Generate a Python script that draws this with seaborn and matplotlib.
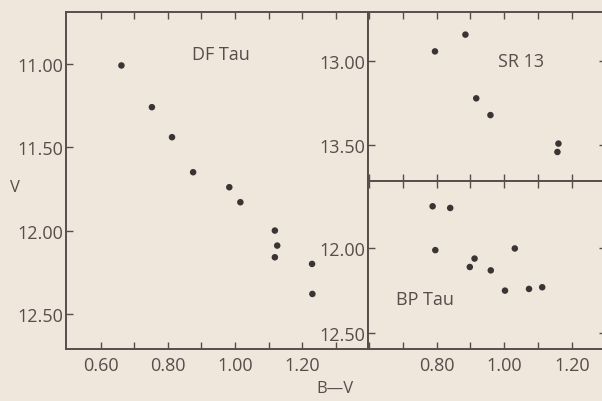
import numpy as np
import pandas as pd
import matplotlib
matplotlib.use('Agg')
import matplotlib.pyplot as plt
import seaborn as sns

# =========================
# DATA
# =========================
df_tau_bv = [0.661, 0.752, 0.812, 0.875, 0.983, 1.016, 1.119, 1.126, 1.119, 1.230, 1.231]
df_tau_v = [11.01, 11.26, 11.44, 11.65, 11.74, 11.83, 12.00, 12.09, 12.16, 12.20, 12.38]

sr13_bv = [0.795, 0.885, 0.917, 0.959, 1.160, 1.157]
sr13_v = [12.94, 12.84, 13.22, 13.32, 13.49, 13.54]

bp_tau_bv = [0.788, 0.840, 0.796, 0.912, 0.898, 0.960, 1.031, 1.002, 1.073, 1.112]
bp_tau_v = [11.75, 11.76, 12.01, 12.06, 12.11, 12.13, 12.00, 12.25, 12.24, 12.23]

left_xticks = [0.60, 0.80, 1.00, 1.20]
right_xticks = [0.80, 1.00, 1.20]

# =========================
# STYLE
# =========================
sns.set_style('ticks')
plt.rcParams['font.family'] = ['Open Sans', 'DejaVu Sans']

bg = '#efe7dc'
ink = '#574e4c'
dot = '#3a3434'
fs = 13

fig = plt.figure(figsize=(6.02, 4.02), dpi=100, facecolor=bg)

ax_l = fig.add_axes([0.1096, 0.1294, 0.5017, 0.838])
ax_t = fig.add_axes([0.6113, 0.5473, 0.395, 0.4204])
ax_b = fig.add_axes([0.6113, 0.1294, 0.395, 0.4179])


def style_axis(ax, xlim, ylim, yticks, xlabels):
    ax.set_facecolor(bg)
    ax.set_yticks(yticks)
    ax.set_yticklabels([f'{t:.2f}' for t in yticks])
    minor = np.round(np.arange(0.6, 1.45, 0.1), 2)
    ax.set_xticks(minor)
    ax.set_xticklabels([f'{t:.2f}' if any(abs(t - x) < 1e-6 for x in xlabels) else ''
                        for t in minor])
    ax.set_xlim(*xlim)
    ax.set_ylim(*ylim)
    ax.tick_params(axis='x', direction='in', top=True, length=5, width=1,
                   color=ink, labelcolor=ink, labelsize=fs, pad=5)
    ax.tick_params(axis='y', direction='in', length=5, width=1,
                   color=ink, labelcolor=ink, labelsize=fs, pad=2)
    for s in ax.spines.values():
        s.set_color(ink)
        s.set_linewidth(1.4)
    ax.set_xlabel('')
    ax.set_ylabel('')


sns.scatterplot(x=df_tau_bv, y=df_tau_v, ax=ax_l, color=dot, s=22, edgecolor='none')
style_axis(ax_l, (0.4955, 1.397), (12.71, 10.69), [11.00, 11.50, 12.00, 12.50], left_xticks)
ax_l.text(0.958, 10.944, 'DF Tau', color=ink, fontsize=fs, ha='center', va='center')

sns.scatterplot(x=sr13_bv, y=sr13_v, ax=ax_t, color=dot, s=22, edgecolor='none')
style_axis(ax_t, (0.597, 1.30), (13.713, 12.705), [13.00, 13.50], [])
ax_t.tick_params(axis='y', right=True)
ax_t.tick_params(axis='x', labelbottom=False)
ax_t.text(1.05, 13.0, 'SR 13', color=ink, fontsize=fs, ha='center', va='center')

sns.scatterplot(x=bp_tau_bv, y=bp_tau_v, ax=ax_b, color=dot, s=22, edgecolor='none')
style_axis(ax_b, (0.597, 1.30), (12.596, 11.60), [12.00, 12.50], right_xticks)
ax_b.tick_params(axis='y', right=True)
ax_b.text(0.765, 12.30, 'BP Tau', color=ink, fontsize=fs, ha='center', va='center')

fig.text(0.025, 0.532, 'V', color=ink, fontsize=fs - 1, ha='center', va='center')
fig.text(0.556, 0.012, 'B—V', color=ink, fontsize=fs - 1, ha='center', va='bottom')

fig.savefig('out.png', dpi=100, facecolor=bg)
